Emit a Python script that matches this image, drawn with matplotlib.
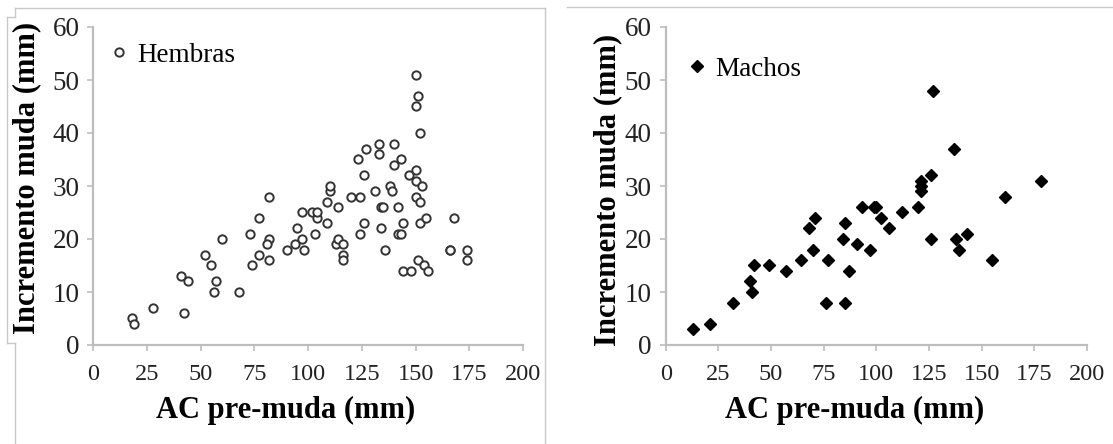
import numpy as np
import matplotlib
matplotlib.use('Agg')
import matplotlib.pyplot as plt
from matplotlib.lines import Line2D

plt.rcParams['font.family'] = ['Liberation Serif', 'DejaVu Serif']

# Hembras (open circles)
hembras_ac = [18, 19, 28, 41, 44, 42, 52, 55, 57, 56, 60, 68, 73, 74, 77, 77, 82, 82, 81, 82,
              90, 94, 95, 97, 98, 97, 102, 104, 104, 103, 109, 109, 110, 110, 113, 114, 116, 116,
              116, 114, 120, 124, 123, 126, 127, 126, 124, 131, 133, 133, 134, 135, 134, 136,
              138, 139, 140, 140, 143, 142, 144, 142, 143, 144, 148, 147, 150, 150, 151, 150,
              152, 150, 153, 150, 152, 152, 155, 151, 154, 156, 166, 166, 168, 174, 174]
hembras_inc = [5, 4, 7, 13, 12, 6, 17, 15, 12, 10, 20, 10, 21, 15, 17, 24, 28, 20, 19, 16,
               18, 19, 22, 20, 18, 25, 25, 24, 25, 21, 23, 27, 29, 30, 19, 20, 19, 17,
               16, 26, 28, 28, 35, 32, 37, 23, 21, 29, 38, 36, 26, 26, 22, 18,
               30, 29, 38, 34, 35, 26, 23, 21, 21, 14, 14, 32, 33, 51, 47, 45,
               40, 31, 30, 28, 27, 23, 24, 16, 15, 14, 18, 18, 24, 18, 16]

# Machos (filled diamonds)
machos_ac = [13, 21, 32, 40, 41, 42, 49, 57, 64, 68, 71, 70, 77, 76, 85, 84, 85, 87, 91, 93,
             97, 99, 100, 102, 106, 112, 120, 121, 121, 121, 126, 127, 126, 137, 138, 139,
             143, 155, 161, 178]
machos_inc = [3, 4, 8, 12, 10, 15, 15, 14, 16, 22, 24, 18, 16, 8, 8, 20, 23, 14, 19, 26,
              18, 26, 26, 24, 22, 25, 26, 31, 30, 29, 32, 48, 20, 37, 20, 18,
              21, 16, 28, 31]

x_ticks = [0, 25, 50, 75, 100, 125, 150, 175, 200]
y_ticks = [0, 10, 20, 30, 40, 50, 60]

W, H = 1113, 444
fig = plt.figure(figsize=(W / 100, H / 100), dpi=100)

axis_gray = '#bdbdbd'
frame_gray = '#c8c8c8'


def px_axes(x0, x1, y0, y1):
    return fig.add_axes([x0 / W, 1 - y0 / H, (x1 - x0) / W, (y0 - y1) / H])


def style(ax):
    ax.set_xlim(0, 200)
    ax.set_ylim(0, 60)
    ax.set_xticks(x_ticks)
    ax.set_yticks(y_ticks)
    for s in ['top', 'right']:
        ax.spines[s].set_visible(False)
    for s in ['left', 'bottom']:
        ax.spines[s].set_color(axis_gray)
        ax.spines[s].set_linewidth(1.6)
    ax.tick_params(axis='both', direction='out', length=4, width=1.2, color=axis_gray)
    ax.tick_params(axis='x', labelsize=17.5, pad=10, labelcolor='#222222')
    ax.tick_params(axis='y', labelsize=19.5, pad=6, labelcolor='#222222')


ax1 = px_axes(93.3, 523, 345, 27)
style(ax1)
ax1.plot(hembras_ac, hembras_inc, linestyle='none', marker='o', markersize=6,
         markerfacecolor='white', markeredgecolor='#333333', markeredgewidth=1.4,
         label='Hembras', clip_on=False)
ax1.legend(loc='upper left', bbox_to_anchor=(-0.009, 1.019), frameon=False, fontsize=19.5,
           handlelength=0.6, handletextpad=0.38, borderaxespad=0.4, markerscale=1.0)

ax2 = px_axes(665.7, 1087, 345, 27)
style(ax2)
ax2.plot(machos_ac, machos_inc, linestyle='none', marker='D', markersize=6,
         markerfacecolor='black', markeredgecolor='black', label='Machos', clip_on=False)
ax2.legend(loc='upper left', bbox_to_anchor=(0.003, 0.974), frameon=False, fontsize=19.5,
           handlelength=0.6, handletextpad=0.38, borderaxespad=0.4, markerscale=1.0)

# axis labels
for cx in [286, 855]:
    fig.text(cx / W, 1 - 410 / H, 'AC pre-muda (mm)', ha='center', va='center',
             fontsize=22, fontweight='bold')
for cx, cy in [(27, 178), (608, 190)]:
    fig.text(cx / W, 1 - cy / H, 'Incremento muda (mm)', ha='center', va='center',
             rotation=90, fontsize=22, fontweight='bold')

# panel frames from the source figure
def fline(xs, ys):
    fig.add_artist(Line2D([x / W for x in xs], [1 - y / H for y in ys],
                          color=frame_gray, linewidth=1.0, transform=fig.transFigure))

fline([15, 545], [8, 8])
fline([15, 15], [8, 17])
fline([7, 15], [17, 17])
fline([7, 7], [17, 343])
fline([7, 15], [343, 343])
fline([15, 15], [343, 444])
fline([545, 545], [8, 444])
fline([567, 1112], [7, 7])

fig.savefig('out.png', dpi=100, facecolor='white')
